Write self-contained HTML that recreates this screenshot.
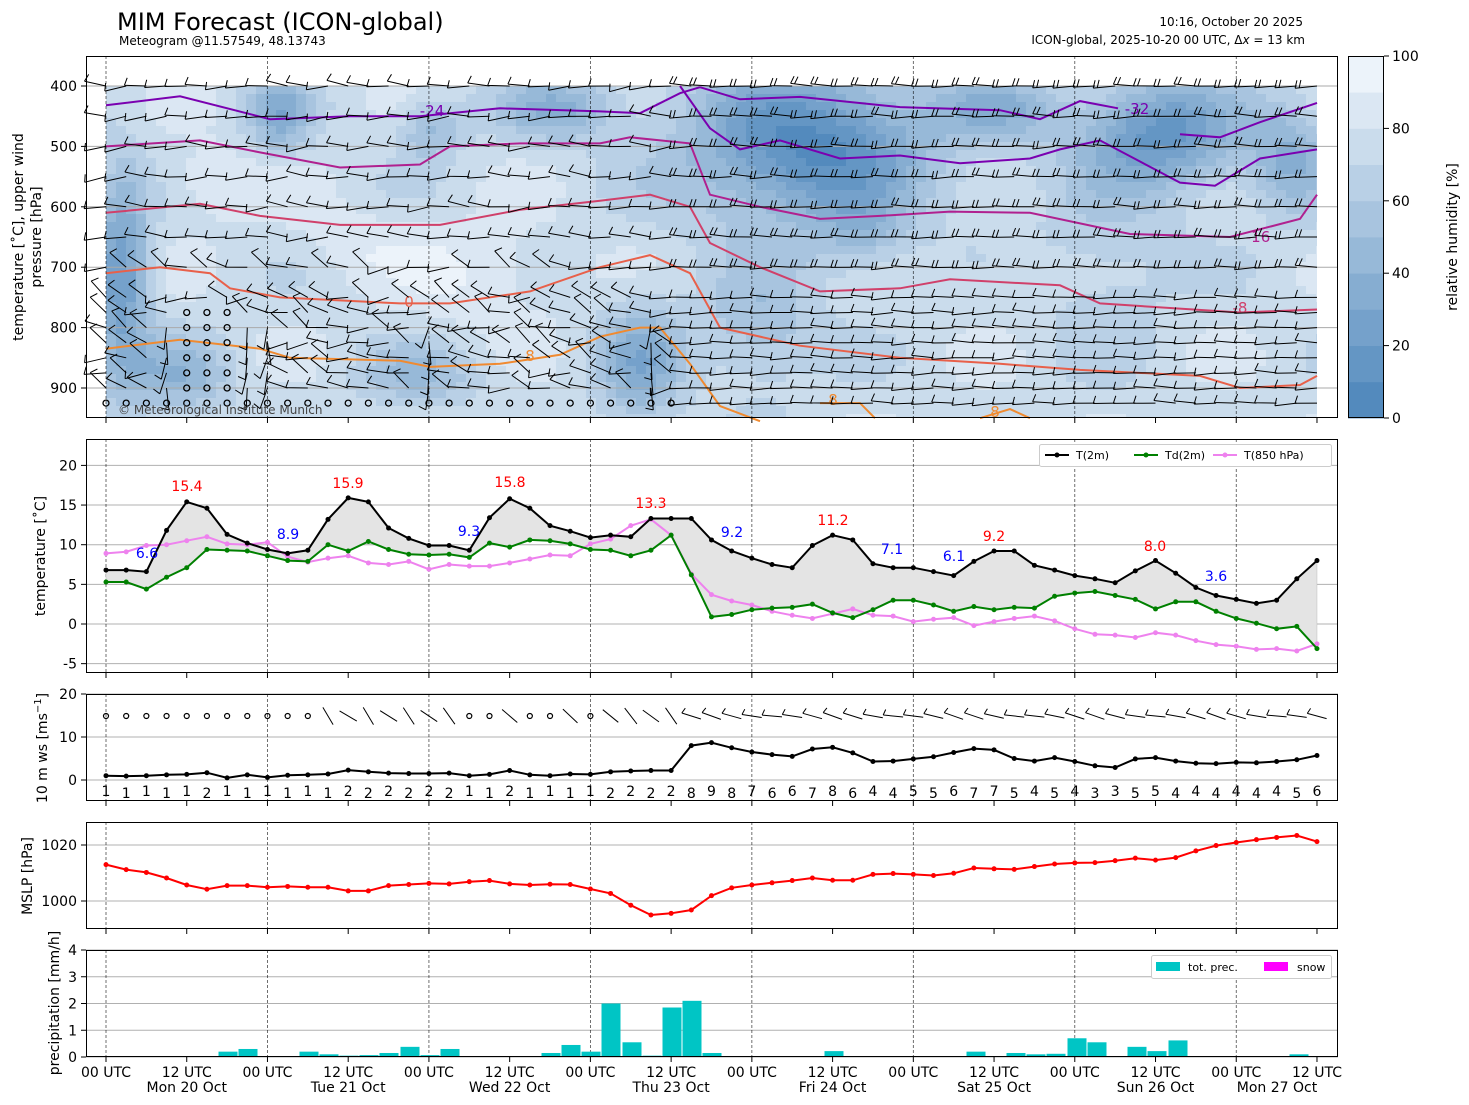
<!DOCTYPE html>
<html><head><meta charset="utf-8">
<style>
html,body{margin:0;padding:0;background:#fff;}
svg{display:block;font-family:"DejaVu Sans","Liberation Sans",sans-serif;}
</style></head>
<body>
<svg id="s" width="1469" height="1105" xmlns="http://www.w3.org/2000/svg"></svg>
<script>
const S=[];
const X0=106,DX=20.183;
const px=i=>X0+DX*i;
const py1=p=>86+(p-400)*0.604;
const yT=t=>624-t*7.93;
const yW=v=>780-v*4.3;
const yP=p=>901-(p-1000)*2.8;
const yR=r=>1057-r*26.75;
const sq=v=>v*v;
const T=[6.8,6.8,6.6,11.8,15.4,14.6,11.3,10.2,9.4,8.9,9.3,13.2,15.9,15.4,12.1,10.8,9.9,9.9,9.3,13.4,15.8,14.6,12.4,11.7,10.9,11.2,11.0,13.3,13.3,13.3,10.6,9.2,8.3,7.5,7.1,9.9,11.2,10.6,7.6,7.1,7.1,6.6,6.1,7.9,9.2,9.2,7.4,6.8,6.1,5.7,5.2,6.7,8.0,6.4,4.6,3.6,3.1,2.6,3.0,5.7,8.0];
const TD=[5.3,5.3,4.4,5.9,7.1,9.4,9.3,9.2,8.6,8.0,7.9,10.0,9.2,10.4,9.4,8.8,8.7,8.8,8.4,10.2,9.7,10.6,10.5,10.1,9.4,9.3,8.6,9.3,11.2,6.2,0.9,1.2,1.8,2.0,2.1,2.5,1.4,0.8,1.8,3.0,3.0,2.4,1.6,2.2,1.8,2.1,2.0,3.5,3.9,4.1,3.6,3.1,1.9,2.8,2.8,1.6,0.7,0.1,-0.6,-0.3,-3.1];
const T8=[8.9,9.1,9.9,10.0,10.5,11.0,10.1,10.0,10.3,8.5,7.8,8.3,8.6,7.7,7.5,7.9,6.9,7.5,7.3,7.3,7.7,8.2,8.7,8.6,10.1,10.7,12.4,13.2,11.2,6.3,3.7,2.9,2.4,1.6,1.1,0.7,1.3,1.9,1.1,1.0,0.3,0.6,0.8,-0.2,0.3,0.7,1.0,0.4,-0.6,-1.3,-1.4,-1.7,-1.1,-1.4,-2.1,-2.6,-2.8,-3.2,-3.1,-3.4,-2.5];
const WS=[1.0,0.9,1.0,1.2,1.3,1.7,0.5,1.2,0.6,1.1,1.2,1.4,2.3,1.9,1.6,1.5,1.5,1.6,1.0,1.3,2.2,1.2,1.0,1.4,1.3,1.9,2.1,2.2,2.2,8.0,8.7,7.5,6.5,5.9,5.5,7.2,7.6,6.3,4.3,4.4,4.9,5.4,6.4,7.3,7.0,5.0,4.4,5.2,4.3,3.3,2.9,4.9,5.2,4.4,3.9,3.8,4.1,4.0,4.3,4.7,5.7];
const MP=[1013,1011.2,1010.2,1008.2,1005.7,1004.2,1005.5,1005.5,1004.9,1005.2,1004.9,1004.9,1003.6,1003.6,1005.5,1005.9,1006.3,1006.1,1006.9,1007.3,1006.1,1005.7,1006.0,1005.9,1004.3,1002.7,998.5,995.0,995.6,996.8,1001.9,1004.7,1005.7,1006.5,1007.3,1008.2,1007.4,1007.4,1009.5,1009.8,1009.5,1009.1,1009.9,1011.8,1011.5,1011.3,1012.3,1013.2,1013.6,1013.7,1014.4,1015.3,1014.6,1015.5,1017.9,1019.8,1020.9,1021.9,1022.7,1023.4,1021.2];
const PR=[[228,0.2],[248,0.3],[309,0.2],[329,0.1],[349,0.05],[369,0.07],[389,0.15],[410,0.38],[430,0.07],[450,0.3],[531,0.03],[551,0.15],[571,0.45],[591,0.2],[611,2.0],[632,0.55],[652,0.05],[672,1.85],[692,2.1],[712,0.15],[834,0.22],[976,0.2],[1016,0.15],[1036,0.1],[1056,0.12],[1077,0.7],[1097,0.55],[1137,0.38],[1157,0.22],[1178,0.62],[1299,0.1]];

function txt(x,y,t,o={}){S.push(`<text x="${x}" y="${y}" font-size="${o.s||14}" fill="${o.c||'#000'}" text-anchor="${o.a||'start'}"${o.r?` transform="rotate(-90 ${x} ${y})"`:''}>${t}</text>`);}
function line(pts,c,w,extra=''){S.push(`<polyline points="${pts.map(p=>p[0].toFixed(1)+','+p[1].toFixed(1)).join(' ')}" fill="none" stroke="${c}" stroke-width="${w}" ${extra}/>`);}

function lerp(a,b,t){return Math.round(a+(b-a)*t);}
function col(v){const t=Math.max(0,Math.min(1,v/100));return `rgb(${lerp(74,245,t)},${lerp(132,249,t)},${lerp(186,253,t)})`;}
const bumps=[[810,500,120,130,70],[1160,480,80,90,60],[122,720,28,180,55],[280,450,30,60,40],[640,860,40,100,40],[560,440,60,50,35],[1000,440,60,50,30],[430,470,30,50,30],[1290,520,40,90,35],[760,800,60,100,25],[180,880,50,60,30],[420,880,60,50,25],[860,650,40,60,20],[1100,700,70,150,15]];
const wet=[[210,560,50,60,15],[480,710,80,80,15],[350,660,60,60,10],[1020,720,60,60,8]];
function g(b,x,p){return b[4]*Math.exp(-sq((x-b[0])/b[2])-sq((p-b[1])/b[3]));}
function rh(x,p){let v=76+9*Math.sin(x/37)*Math.cos(p/45);for(const b of bumps)v-=g(b,x,p);for(const b of wet)v+=g(b,x,p);return Math.max(0,Math.min(99,v));}
S.push(`<rect x="86" y="56" width="1252" height="362" fill="#fff"/>`);
for(let x=106;x<1317;x+=10){for(let y=86;y<418;y+=8){const p=400+(y+4-86)/0.604;const v=Math.floor(rh(x+5,p)/10)*10+5;S.push(`<rect x="${x}" y="${y}" width="${Math.min(10.5,1317-x)}" height="${Math.min(8.5,418-y)}" fill="${col(v)}"/>`);}}
for(let p=400;p<=900;p+=100)S.push(`<line x1="86" x2="1338" y1="${py1(p)}" y2="${py1(p)}" stroke="#aaa" stroke-width="1"/>`);
const cv=a=>a.map(q=>[q[0],py1(q[1])]);
line(cv([[106,432],[180,417],[270,455],[350,450],[420,450],[500,437],[600,442],[640,445],[680,412],[700,402]]),'#7a00b0',2);
line(cv([[700,402],[740,422],[800,418],[900,435],[1000,440],[1040,455],[1080,425],[1118,437]]),'#7a00b0',2);
line(cv([[680,400],[710,470],[740,505],[780,490],[840,520],[900,515],[960,528],[1030,520],[1060,505],[1100,490],[1140,525],[1180,560],[1215,565],[1260,520],[1317,505]]),'#7a00b0',2);
line(cv([[1180,480],[1220,485],[1260,460],[1317,428]]),'#7a00b0',2);
line(cv([[106,500],[200,490],[260,510],[340,535],[420,530],[450,500],[520,495],[600,495],[630,485],[690,495],[710,580],[760,600],[820,620],[880,615],[950,608],[1030,610],[1130,645],[1230,650],[1300,620],[1317,580]]),'#b0208f',2);
line(cv([[106,610],[200,595],[260,615],[340,630],[440,630],[520,605],[600,590],[650,580],[690,600],[710,660],[760,700],[820,740],[900,735],[950,720],[1060,730],[1100,760],[1240,775],[1317,770]]),'#d0406a',2);
line(cv([[106,710],[160,700],[210,710],[230,735],[280,750],[400,760],[450,760],[530,740],[600,700],[650,680],[690,710],[720,800],[800,830],[900,850],[1000,860],[1080,870],[1200,880],[1240,900],[1300,895],[1317,880]]),'#e8604a',2);
line(cv([[106,835],[180,820],[260,835],[290,850],[400,855],[430,865],[500,860],[560,845],[600,815],[640,800],[660,800],[690,860],[720,930],[760,955]]),'#f08a30',2);
line(cv([[820,925],[860,925],[875,950]]),'#f08a30',2);
line(cv([[980,950],[1010,935],[1030,950]]),'#f08a30',2);
txt(432,116,'-24',{c:'#7a00b0',s:15,a:'middle'});
txt(1137,114,'-32',{c:'#7a00b0',s:15,a:'middle'});
txt(1258,242,'-16',{c:'#b0208f',s:15,a:'middle'});
txt(409,307,'0',{c:'#e8604a',s:15,a:'middle'});
txt(1240,313,'-8',{c:'#d0406a',s:15,a:'middle'});
txt(530,361,'8',{c:'#f08a30',s:15,a:'middle'});
txt(833,405,'8',{c:'#f08a30',s:15,a:'middle'});
txt(995,417,'8',{c:'#f08a30',s:15,a:'middle'});
function rnd(i){const x=Math.sin(i*12.9898)*43758.5453;return x-Math.floor(x);}
const levels=[400,450,500,550,600,650,700,750,775,800,825,850,875,900,925];
let kk=0;
for(const p of levels){for(let i=0;i<61;i++){kk++;const x=px(i),y=py1(p);
  const lowCalm=(i>=4&&i<=6&&p>=775&&p<=900)||(p==925&&i<29);
  if(lowCalm){S.push(`<circle cx="${x}" cy="${y}" r="3" fill="none" stroke="#000" stroke-width="1.3"/>`);continue;}
  let ang;
  if(i>=29||p<=650) ang=180+(rnd(kk)-0.5)*(i>=29?14:30)+((p>=800&&i<29)?-25:0);
  else ang=180+(rnd(kk)-0.3)*70;
  if((i==3||i==7||i==8||i==16||i==27)&&p>=800) ang=95+(rnd(kk)-0.5)*30;
  const a=ang*Math.PI/180,L=22;const ex=x+L*Math.cos(a),ey=y+L*Math.sin(a);
  let d=`M${x.toFixed(1)},${y.toFixed(1)}L${ex.toFixed(1)},${ey.toFixed(1)}`;
  const nf=(i>=29&&p<=700)?2:1;
  for(let f=0;f<nf;f++){const bx=x+(L-f*4)*Math.cos(a),by=y+(L-f*4)*Math.sin(a);const fl=8;const fa=a+1.9;d+=`M${bx.toFixed(1)},${by.toFixed(1)}l${(fl*Math.cos(fa)).toFixed(1)},${(fl*Math.sin(fa)).toFixed(1)}`;}
  S.push(`<path d="${d}" stroke="#000" stroke-width="1" fill="none"/>`);
}}
const days=[0,1,2,3,4,5,6,7].map(d=>X0+DX*8*d);
function dayLines(y1,y2){for(const x of days)S.push(`<line x1="${x}" x2="${x}" y1="${y1}" y2="${y2}" stroke="#000" stroke-width="0.8" stroke-dasharray="3,2" opacity="0.7"/>`);}
dayLines(56,418);
txt(118,414,'© Meteorological Institute Munich',{s:12,c:'#444'});
S.push(`<rect x="86.5" y="56.5" width="1251" height="361" fill="none" stroke="#000"/>`);
for(let p=400;p<=900;p+=100){S.push(`<line x1="81" x2="86" y1="${py1(p)}" y2="${py1(p)}" stroke="#000"/>`);txt(77,py1(p)+5,p,{a:'end'});}
txt(23,237,'temperature [˚C], upper wind',{r:1,a:'middle',s:14});
txt(41,237,'pressure [hPa]',{r:1,a:'middle',s:14});
for(let j=0;j<10;j++){const y0=418-(j+1)*36.2;S.push(`<rect x="1348" y="${y0}" width="36" height="36.6" fill="${col(j*10+5)}"/>`);}
S.push(`<rect x="1348.5" y="56.5" width="35" height="361" fill="none" stroke="#000"/>`);
for(let v=0;v<=100;v+=20){const y=418-v*3.62;S.push(`<line x1="1384" x2="1389" y1="${y}" y2="${y}" stroke="#000"/>`);txt(1392,y+5,v);}
txt(1457,237,'relative humidity [%]',{r:1,a:'middle'});

txt(117,30,'MIM Forecast (ICON-global)',{s:24});
txt(119,45,'Meteogram @11.57549, 48.13743',{s:12});
txt(1303,26,'10:16, October 20 2025',{s:12,a:'end'});
txt(1305,44,'ICON-global, 2025-10-20 00 UTC, Δ<tspan font-style="italic">x</tspan> = 13 km',{s:12,a:'end'});

function xticks(y){for(let k=0;k<16;k++){const x=X0+DX*4*k;S.push(`<line x1="${x}" x2="${x}" y1="${y}" y2="${y+5}" stroke="#000"/>`);}}
function frameBox(y1,y2){S.push(`<rect x="86.5" y="${y1+.5}" width="1251" height="${y2-y1-1}" fill="none" stroke="#000"/>`);xticks(y2);}
function hgrid(ys){for(const y of ys)S.push(`<line x1="86" x2="1338" y1="${y}" y2="${y}" stroke="#b0b0b0"/>`);}
function yt(y,t){S.push(`<line x1="81" x2="86" y1="${y}" y2="${y}" stroke="#000"/>`);txt(77,y+5,t,{a:'end'});}
xticks(418);

hgrid([-5,0,5,10,15,20].map(yT));dayLines(439,673);
let poly=T.map((t,i)=>[px(i),yT(t)]).concat(TD.map((t,i)=>[px(i),yT(t)]).reverse());
S.push(`<polygon points="${poly.map(p=>p.join(',')).join(' ')}" fill="#e4e4e4" stroke="#bbb" stroke-width="0.5"/>`);
function series(arr,f,c){line(arr.map((v,i)=>[px(i),f(v)]),c,2);arr.forEach((v,i)=>S.push(`<circle cx="${px(i)}" cy="${f(v)}" r="2.5" fill="${c}"/>`));}
series(T8,yT,'#ee82ee');series(TD,yT,'#008000');series(T,yT,'#000');
[[187,491,'15.4'],[348,488,'15.9'],[510,487,'15.8'],[651,508,'13.3'],[833,525,'11.2'],[994,541,'9.2'],[1155,551,'8.0']].forEach(a=>txt(a[0],a[1],a[2],{c:'red',a:'middle'}));
[[147,558,'6.6'],[288,539,'8.9'],[469,536,'9.3'],[732,537,'9.2'],[892,554,'7.1'],[954,561,'6.1'],[1216,581,'3.6']].forEach(a=>txt(a[0],a[1],a[2],{c:'blue',a:'middle'}));
S.push(`<rect x="1039.5" y="444.5" width="292" height="22" fill="#fff" stroke="#ccc" rx="2"/>`);
[[1045,'#000','T(2m)'],[1134,'#008000','Td(2m)'],[1213,'#ee82ee','T(850 hPa)']].forEach(a=>{S.push(`<line x1="${a[0]}" x2="${a[0]+24}" y1="455" y2="455" stroke="${a[1]}" stroke-width="2"/><circle cx="${a[0]+12}" cy="455" r="2.5" fill="${a[1]}"/>`);txt(a[0]+31,459,a[2],{s:11});});
frameBox(439,673);
[-5,0,5,10,15,20].forEach(t=>yt(yT(t),t));
txt(45,556,'temperature [˚C]',{r:1,a:'middle'});

hgrid([0,10,20].map(yW));dayLines(694,801);
series(WS,yW,'#000');
WS.forEach((v,i)=>{txt(px(i),i%2?798:796,Math.round(v),{a:'middle'});
  const x=px(i),y=716;
  if(i<=10||(i>=18&&i<=24&&i%3!=2)){S.push(`<circle cx="${x}" cy="${y}" r="2.5" fill="none" stroke="#000" stroke-width="1.2"/>`);}
  else{const a=i>=29?Math.PI*(1.07-0.04*Math.sin(i)):Math.PI*(1.25+0.08*Math.sin(i*3));const L=20;
   let d=`M${(x-L*Math.cos(a)/2).toFixed(1)},${(y-L*Math.sin(a)/2).toFixed(1)}L${(x+L*Math.cos(a)/2).toFixed(1)},${(y+L*Math.sin(a)/2).toFixed(1)}`;
   if(i>=29){const bx=x+L*Math.cos(a)/2,by=y+L*Math.sin(a)/2;d+=`M${bx.toFixed(1)},${by.toFixed(1)}l${(6*Math.cos(a+1.9)).toFixed(1)},${(6*Math.sin(a+1.9)).toFixed(1)}`;}
   S.push(`<path d="${d}" stroke="#000" stroke-width="1" fill="none"/>`);}
});
frameBox(694,801);
[0,10,20].forEach(v=>yt(yW(v),v));
txt(47,748,'10 m ws [ms<tspan dy="-6" font-size="10">−1</tspan><tspan dy="6">]</tspan>',{r:1,a:'middle'});

hgrid([1000,1020].map(yP));dayLines(822,929);
series(MP,yP,'#f00');
frameBox(822,929);
[1000,1020].forEach(v=>yt(yP(v),v));
txt(32,876,'MSLP [hPa]',{r:1,a:'middle'});

hgrid([0,1,2,3,4].map(yR));dayLines(950,1057);
PR.forEach(b=>S.push(`<rect x="${b[0]-9.5}" y="${yR(b[1])}" width="19" height="${1057-yR(b[1])}" fill="#00c5c5"/>`));
S.push(`<rect x="1151.5" y="955.5" width="180" height="23" fill="#fff" stroke="#ccc" rx="2"/>`);
S.push(`<rect x="1156" y="962" width="24" height="9" fill="#00c5c5"/><rect x="1264" y="962" width="24" height="9" fill="#f0f"/>`);
txt(1188,971,'tot. prec.',{s:11});txt(1297,971,'snow',{s:11});
frameBox(950,1057);
[0,1,2,3,4].forEach(v=>yt(yR(v),v));
txt(59,1003,'precipitation [mm/h]',{r:1,a:'middle'});
const dn=['Mon 20 Oct','Tue 21 Oct','Wed 22 Oct','Thu 23 Oct','Fri 24 Oct','Sat 25 Oct','Sun 26 Oct','Mon 27 Oct'];
for(let k=0;k<16;k++){const x=X0+DX*4*k;txt(x,1077,k%2?'12 UTC':'00 UTC',{a:'middle'});if(k%2)txt(k==15?1277:x,1092,dn[(k-1)/2],{a:'middle'});}
document.getElementById('s').innerHTML=S.join('');
</script>
</body></html>
